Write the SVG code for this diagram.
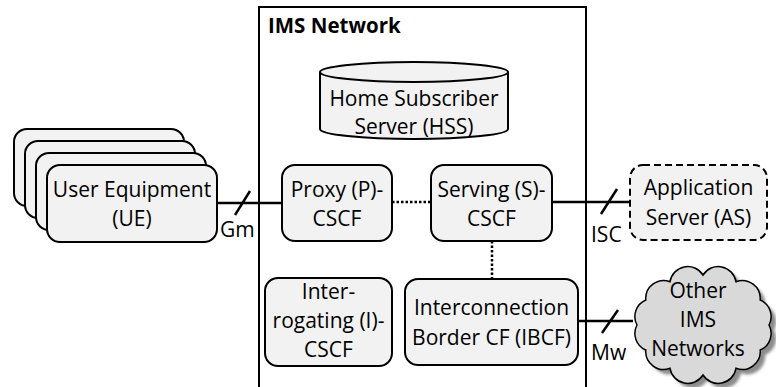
<svg xmlns="http://www.w3.org/2000/svg" width="776" height="387" viewBox="0 0 776 387">
  <defs>
    <style>
      .box { fill: #f2f2f2; stroke: #000; stroke-width: 2; }
      .dash { fill: #f2f2f2; stroke: #000; stroke-width: 2; stroke-dasharray: 7 4; }
      .lbl { font-family: "Open Sans", "Liberation Sans", sans-serif; font-size: 21px; fill: #000; text-anchor: middle; }
      .iface { font-family: "Open Sans", "Liberation Sans", sans-serif; font-size: 21px; fill: #000; }
      .title { font-family: "Open Sans", "Liberation Sans", sans-serif; font-size: 20.5px; font-weight: bold; fill: #000; }
      .wire { stroke: #000; stroke-width: 2.5; fill: none; }
      .dot { stroke: #000; stroke-width: 2.5; fill: none; stroke-dasharray: 2.5 2; }
    </style>
    <filter id="soft" x="-10%" y="-10%" width="130%" height="130%">
      <feGaussianBlur stdDeviation="1.5"/>
    </filter>
    <path id="cloud" d="M769,325 A18,18 0 0 1 760.2,350 A18,18 0 0 1 736,368.3 A18,18 0 0 1 703,375 A18,18 0 0 1 670,368.3 A18,18 0 0 1 645.8,350 A18,18 0 0 1 637,325 A18,18 0 0 1 645.8,300 A18,18 0 0 1 670,281.7 A18,18 0 0 1 703,275 A18,18 0 0 1 736,281.7 A18,18 0 0 1 760.2,300 A18,18 0 0 1 769,325 Z"/>
  </defs>

  <rect width="776" height="387" fill="#fff"/>

  <!-- IMS network frame -->
  <g id="ims-network">
    <rect x="259" y="7" width="327" height="400" fill="none" stroke="#000" stroke-width="2"/>
    <text class="title" x="268" y="33">IMS Network</text>
  </g>

  <!-- connectors -->
  <g id="connectors">
    <line class="wire" x1="217" y1="203" x2="282" y2="203"/>
    <line class="wire" x1="235" y1="215" x2="250" y2="191"/>
    <line class="dot" x1="392" y1="202" x2="431" y2="202"/>
    <line class="dot" x1="492" y1="241" x2="492" y2="279"/>
    <line class="wire" x1="552" y1="202" x2="630" y2="202"/>
    <line class="wire" x1="601" y1="214" x2="617" y2="189"/>
    <line class="wire" x1="578" y1="321" x2="633" y2="321"/>
    <line class="wire" x1="602" y1="333" x2="618" y2="310"/>
    <text class="iface" x="220" y="237">Gm</text>
    <text class="iface" x="591" y="242">ISC</text>
    <text class="iface" x="591" y="360">Mw</text>
  </g>

  <!-- user equipment stack -->
  <g id="ue">
    <rect class="box" x="14" y="129" width="170" height="77" rx="13"/>
    <rect class="box" x="25" y="141" width="170" height="77" rx="13"/>
    <rect class="box" x="36" y="153" width="170" height="77" rx="13"/>
    <rect class="box" x="47" y="165" width="170" height="77" rx="13"/>
    <text class="lbl" x="132" y="197">User Equipment</text>
    <text class="lbl" x="132" y="226">(UE)</text>
  </g>

  <!-- home subscriber server -->
  <g id="hss">
    <path class="box" d="M320,72 L320,129 A94,10 0 0 0 508,129 L508,72 A94,10 0 0 0 320,72 Z"/>
    <path d="M320,72 A94,10 0 0 0 508,72" fill="none" stroke="#000" stroke-width="2"/>
    <text class="lbl" x="414" y="106">Home Subscriber</text>
    <text class="lbl" x="414" y="134">Server (HSS)</text>
  </g>

  <g id="p-cscf">
    <rect class="box" x="282" y="165" width="110" height="76" rx="13"/>
    <text class="lbl" x="337" y="197">Proxy (P)-</text>
    <text class="lbl" x="337" y="226">CSCF</text>
  </g>

  <g id="s-cscf">
    <rect class="box" x="431" y="165" width="121" height="76" rx="13"/>
    <text class="lbl" x="491.5" y="197">Serving (S)-</text>
    <text class="lbl" x="491.5" y="226">CSCF</text>
  </g>

  <g id="i-cscf">
    <rect class="box" x="265" y="278" width="127" height="88" rx="13"/>
    <text class="lbl" x="328.5" y="299">Inter-</text>
    <text class="lbl" x="328.5" y="328">rogating (I)-</text>
    <text class="lbl" x="328.5" y="357">CSCF</text>
  </g>

  <g id="ibcf">
    <rect class="box" x="405" y="279" width="173" height="86" rx="13"/>
    <text class="lbl" x="491.5" y="315">Interconnection</text>
    <text class="lbl" x="491.5" y="345">Border CF (IBCF)</text>
  </g>

  <g id="as">
    <rect class="dash" x="630" y="165" width="137" height="75" rx="13"/>
    <text class="lbl" x="698.5" y="195">Application</text>
    <text class="lbl" x="698.5" y="225">Server (AS)</text>
  </g>

  <!-- other IMS networks cloud, with soft drop shadow -->
  <g id="other-ims">
    <use href="#cloud" transform="translate(5,5)" fill="#8c8c8c" filter="url(#soft)"/>
    <use href="#cloud" fill="#d9d9d9" stroke="#000" stroke-width="1.5"/>
    <text class="lbl" x="698" y="298">Other</text>
    <text class="lbl" x="698" y="327">IMS</text>
    <text class="lbl" x="698" y="356">Networks</text>
  </g>
</svg>
